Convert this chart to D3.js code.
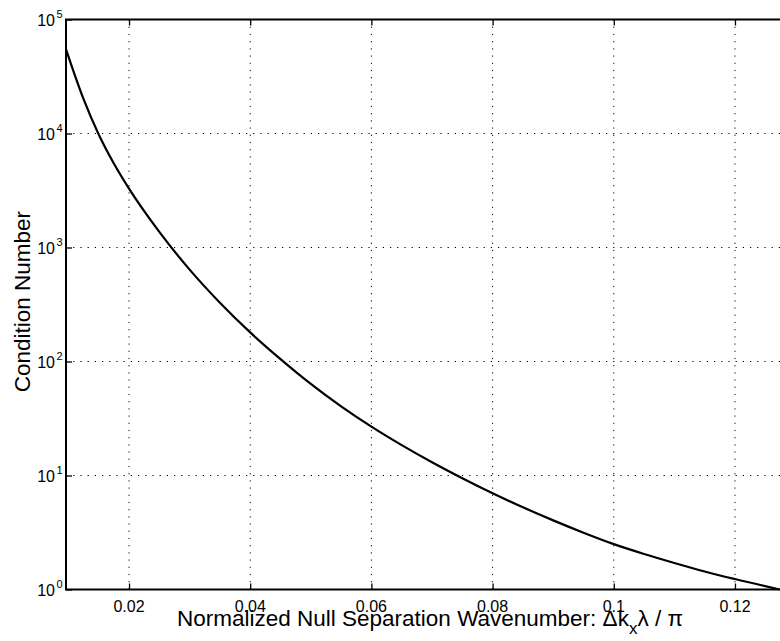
<!DOCTYPE html>
<html>
<head>
<meta charset="utf-8">
<script src="https://cdn.jsdelivr.net/npm/d3@7"></script>
<style>
    body { margin: 0; background: #fff; }
    text { font-family: "Liberation Sans", Arial, Helvetica, sans-serif; fill: #000; }
    .grid line { stroke: #000; stroke-width: 1; stroke-dasharray: 1.2, 6; }
    .axis path { display: none; }
    .axis line { stroke: #000; stroke-width: 1.3; }
</style>
</head>
<body>
<div id="chart"></div>
<script>

// curve: normalized null separation vs condition number
let waveNumber = [0.0096, 0.0125, 0.015, 0.0175, 0.02, 0.025, 0.03, 0.035, 0.04, 0.045, 0.05, 0.055, 0.06,
    0.065, 0.07, 0.075, 0.08, 0.085, 0.09, 0.095, 0.1, 0.105, 0.11, 0.115, 0.12, 0.1274];
let conditionNumber = [54800, 20000, 9800, 5450, 3280, 1370, 640, 328, 180, 105, 63.6, 40.4, 26.8,
    18.45, 13.06, 9.46, 6.98, 5.26, 4.04, 3.15, 2.50, 2.05, 1.71, 1.44, 1.235, 1.0];

// ticks
let xTicks = [0.02, 0.04, 0.06, 0.08, 0.1, 0.12];
let xTickLabels = ["0.02", "0.04", "0.06", "0.08", "0.1", "0.12"];
let yExponents = [0, 1, 2, 3, 4, 5];

let width = 780, height = 641;
let plot = {left: 66, right: 780, top: 19.5, bottom: 589.5};

let svg = d3.select("#chart").append("svg")
    .attr("width", width)
    .attr("height", height);

svg.append("rect").attr("width", width).attr("height", height).attr("fill", "#fff");

// scales
let x = d3.scaleLinear()
    .domain([0.0096, 0.12743])
    .range([plot.left, plot.right]);

let y = d3.scaleLog()
    .domain([1, 1e5])
    .range([plot.bottom, plot.top]);

// dotted grid
let grid = svg.append("g").attr("class", "grid");

grid.selectAll(".vgrid")
    .data(xTicks)
    .enter().append("line")
    .attr("x1", d => x(d)).attr("x2", d => x(d))
    .attr("y1", plot.top).attr("y2", plot.bottom);

grid.selectAll(".hgrid")
    .data(yExponents.slice(1, -1))
    .enter().append("line")
    .attr("x1", plot.left).attr("x2", plot.right)
    .attr("y1", d => y(Math.pow(10, d))).attr("y2", d => y(Math.pow(10, d)));

// tick marks (inward), labels drawn separately
svg.append("g")
    .attr("class", "axis")
    .attr("transform", "translate(0," + plot.bottom + ")")
    .call(d3.axisBottom(x).tickValues(xTicks).tickSize(-6).tickFormat(""));

svg.append("g")
    .attr("class", "axis")
    .attr("transform", "translate(0," + plot.top + ")")
    .call(d3.axisTop(x).tickValues(xTicks).tickSize(-6).tickFormat(""));

svg.append("g")
    .attr("class", "axis")
    .attr("transform", "translate(" + plot.left + ",0)")
    .call(d3.axisLeft(y).tickValues(yExponents.map(e => Math.pow(10, e))).tickSize(-6).tickFormat(""));

// frame: top, left, bottom (right edge runs off the picture)
svg.append("path")
    .attr("d", "M" + (plot.right + 2) + "," + plot.top + "H" + plot.left + "V" + plot.bottom + "H" + (plot.right + 2))
    .attr("fill", "none")
    .attr("stroke", "#000")
    .attr("stroke-width", 2);

// curve
let line = d3.line()
    .x((d, i) => x(waveNumber[i]))
    .y(d => y(d))
    .curve(d3.curveMonotoneX);

svg.append("path")
    .datum(conditionNumber)
    .attr("d", line)
    .attr("fill", "none")
    .attr("stroke", "#000")
    .attr("stroke-width", 2.2);

// x tick labels
svg.selectAll(".xlabel")
    .data(xTicks)
    .enter().append("text")
    .attr("x", d => x(d))
    .attr("y", plot.bottom + 22)
    .attr("text-anchor", "middle")
    .style("font-size", "16px")
    .text((d, i) => xTickLabels[i]);

// y tick labels 10^n
let yLab = svg.selectAll(".ylabel")
    .data(yExponents)
    .enter().append("text")
    .attr("x", 55)
    .attr("y", d => y(Math.pow(10, d)) + 6)
    .attr("text-anchor", "end")
    .style("font-size", "16px");

yLab.append("tspan").text("10");

svg.selectAll(".yexp")
    .data(yExponents)
    .enter().append("text")
    .attr("x", 56.5)
    .attr("y", d => y(Math.pow(10, d)) - 2)
    .style("font-size", "11px")
    .text(d => d);

// axis titles
let xTitle = svg.append("text")
    .attr("x", 177)
    .attr("y", 626)
    .style("font-size", "22.5px");

xTitle.append("tspan").text("Normalized Null Separation Wavenumber: \u0394k");
xTitle.append("tspan").attr("dy", 8).style("font-size", "17px").text("x");
xTitle.append("tspan").attr("dy", -8).text("\u03bb / \u03c0");

svg.append("text")
    .attr("transform", "translate(29.5,301.7) rotate(-90)")
    .attr("text-anchor", "middle")
    .style("font-size", "22.5px")
    .text("Condition Number");

</script>
</body>
</html>
